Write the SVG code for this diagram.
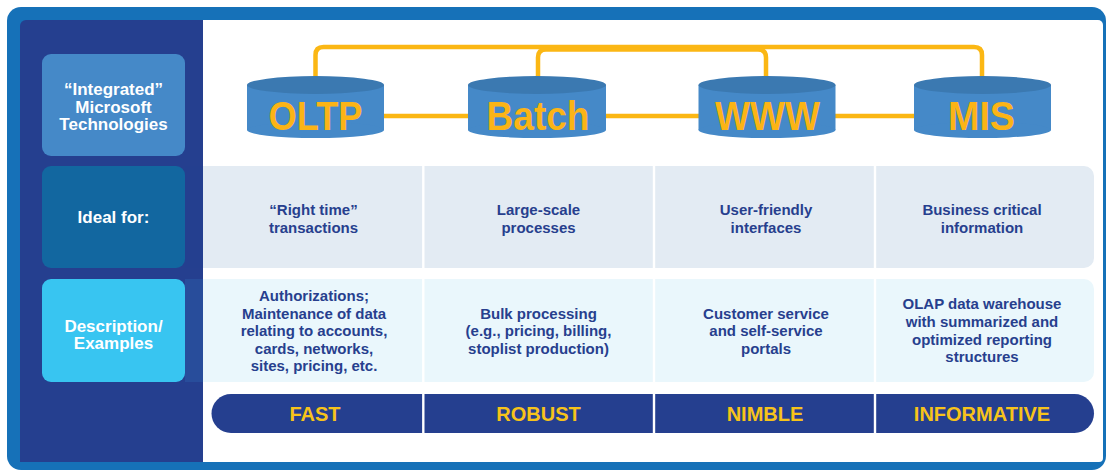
<svg xmlns="http://www.w3.org/2000/svg" width="1106" height="470" viewBox="0 0 1106 470">
<style>
.lbl{font-family:"Liberation Sans",Arial,sans-serif;font-weight:bold;font-size:17px;fill:#ffffff;text-anchor:middle}
.cell{font-family:"Liberation Sans",Arial,sans-serif;font-weight:bold;font-size:15px;fill:#273f8e;text-anchor:middle}
.bar{font-family:"Liberation Sans",Arial,sans-serif;font-weight:bold;font-size:20px;fill:#f7c31a;text-anchor:middle}
.cyl{font-family:"Liberation Sans",Arial,sans-serif;font-weight:bold;font-size:40px;fill:#fbb416;text-anchor:middle}
.body{fill:#4589c8}
.top{fill:#3b79b1}
.wire{fill:none;stroke:#fbb714;stroke-width:4.5;stroke-linecap:round}
.sep{stroke:#ffffff;stroke-width:2.4}
</style>
<g id="frame">
<rect x="7" y="7" width="1099" height="463" rx="14" fill="#1671b8"/>
<path d="M26,20 H203 V462 H20 V26 A6,6 0 0 1 26,20 Z" fill="#253f8f"/>
<path d="M203,20 H1098 A5,5 0 0 1 1103,25 V458 A4,4 0 0 1 1099,462 H203 Z" fill="#ffffff"/>
</g>
<g id="rows">
<path d="M185,166 H1084 A10,10 0 0 1 1094,176 V258 A10,10 0 0 1 1084,268 H185 Z" fill="#e3ebf3"/>
<rect x="185" y="166" width="18" height="102" fill="#243f8f"/>
<path d="M185,279 H1084 A10,10 0 0 1 1094,289 V372 A10,10 0 0 1 1084,382 H185 Z" fill="#eaf7fc"/>
<rect x="185" y="279" width="18" height="103" fill="#284d9b"/>
<rect x="211.5" y="394" width="882.5" height="39" rx="19.5" fill="#253f8f"/>
<line class="sep" x1="423.3" y1="166" x2="423.3" y2="268"/>
<line class="sep" x1="654" y1="166" x2="654" y2="268"/>
<line class="sep" x1="875" y1="166" x2="875" y2="268"/>
<line class="sep" x1="423.3" y1="279" x2="423.3" y2="382"/>
<line class="sep" x1="654" y1="279" x2="654" y2="382"/>
<line class="sep" x1="875" y1="279" x2="875" y2="382"/>
<line class="sep" x1="423.3" y1="394" x2="423.3" y2="433"/>
<line class="sep" x1="654" y1="394" x2="654" y2="433"/>
<line class="sep" x1="875" y1="394" x2="875" y2="433"/>
</g>
<g id="connectors">
<path class="wire" d="M384,116 H914"/>
<path class="wire" d="M315.5,80 V55 Q315.5,47 323.5,47 H974 Q982,47 982,55 V80"/>
<path class="wire" d="M538,80 V57.5 Q538,49.5 546,49.5 H758 Q766,49.5 766,57.5 V80"/>
</g>
<g id="label-integrated">
<rect x="42" y="54" width="143" height="102" rx="9" fill="#4589c8"/>
<text class="lbl" x="113.5" y="95">“Integrated”</text>
<text class="lbl" x="113.5" y="112.5">Microsoft</text>
<text class="lbl" x="113.5" y="130">Technologies</text>
</g>
<g id="label-ideal">
<rect x="42" y="166" width="143" height="102" rx="9" fill="#1267a0"/>
<text class="lbl" x="113.5" y="223">Ideal for:</text>
</g>
<g id="label-description">
<rect x="42" y="279" width="143" height="103" rx="9" fill="#38c5f1"/>
<text class="lbl" x="113.5" y="331.5">Description/</text>
<text class="lbl" x="113.5" y="349">Examples</text>
</g>
<g id="oltp">
<rect class="body" x="247" y="85" width="137" height="45"/>
<ellipse class="body" cx="315.5" cy="130" rx="68.5" ry="8"/>
<ellipse class="top" cx="315.5" cy="85" rx="68.5" ry="9"/>
<text class="cyl" x="315.5" y="129.5" textLength="94" lengthAdjust="spacingAndGlyphs">OLTP</text>
</g>
<g id="batch">
<rect class="body" x="468" y="85" width="138" height="45"/>
<ellipse class="body" cx="537" cy="130" rx="69" ry="8"/>
<ellipse class="top" cx="537" cy="85" rx="69" ry="9"/>
<text class="cyl" x="538" y="129.5" textLength="103" lengthAdjust="spacingAndGlyphs">Batch</text>
</g>
<g id="www">
<rect class="body" x="698.5" y="85" width="137" height="45"/>
<ellipse class="body" cx="767" cy="130" rx="68.5" ry="8"/>
<ellipse class="top" cx="767" cy="85" rx="68.5" ry="9"/>
<text class="cyl" x="767.5" y="129.5" textLength="105" lengthAdjust="spacingAndGlyphs">WWW</text>
</g>
<g id="mis">
<rect class="body" x="914" y="85" width="137" height="45"/>
<ellipse class="body" cx="982.5" cy="130" rx="68.5" ry="8"/>
<ellipse class="top" cx="982.5" cy="85" rx="68.5" ry="9"/>
<text class="cyl" x="981.5" y="129.5" textLength="67" lengthAdjust="spacingAndGlyphs">MIS</text>
</g>
<g id="ideal-oltp">
<text class="cell" x="313.5" y="214.5">“Right time”</text>
<text class="cell" x="313.5" y="232.5">transactions</text>
</g>
<g id="ideal-batch">
<text class="cell" x="538.5" y="214.5">Large-scale</text>
<text class="cell" x="538.5" y="232.5">processes</text>
</g>
<g id="ideal-www">
<text class="cell" x="766" y="214.5">User-friendly</text>
<text class="cell" x="766" y="232.5">interfaces</text>
</g>
<g id="ideal-mis">
<text class="cell" x="982" y="214.5">Business critical</text>
<text class="cell" x="982" y="232.5">information</text>
</g>
<g id="desc-oltp">
<text class="cell" x="314" y="300.5">Authorizations;</text>
<text class="cell" x="314" y="318.5">Maintenance of data</text>
<text class="cell" x="314" y="336">relating to accounts,</text>
<text class="cell" x="314" y="353.5">cards, networks,</text>
<text class="cell" x="314" y="371">sites, pricing, etc.</text>
</g>
<g id="desc-batch">
<text class="cell" x="538.5" y="318.5">Bulk processing</text>
<text class="cell" x="538.5" y="336">(e.g., pricing, billing,</text>
<text class="cell" x="538.5" y="353.5">stoplist production)</text>
</g>
<g id="desc-www">
<text class="cell" x="766" y="318.5">Customer service</text>
<text class="cell" x="766" y="336">and self-service</text>
<text class="cell" x="766" y="353.5">portals</text>
</g>
<g id="desc-mis">
<text class="cell" x="982" y="309">OLAP data warehouse</text>
<text class="cell" x="982" y="327">with summarized and</text>
<text class="cell" x="982" y="344.5">optimized reporting</text>
<text class="cell" x="982" y="362">structures</text>
</g>
<g id="bar-labels">
<text class="bar" x="315" y="421">FAST</text>
<text class="bar" x="538.5" y="421">ROBUST</text>
<text class="bar" x="765" y="421">NIMBLE</text>
<text class="bar" x="982" y="421">INFORMATIVE</text>
</g>
</svg>
